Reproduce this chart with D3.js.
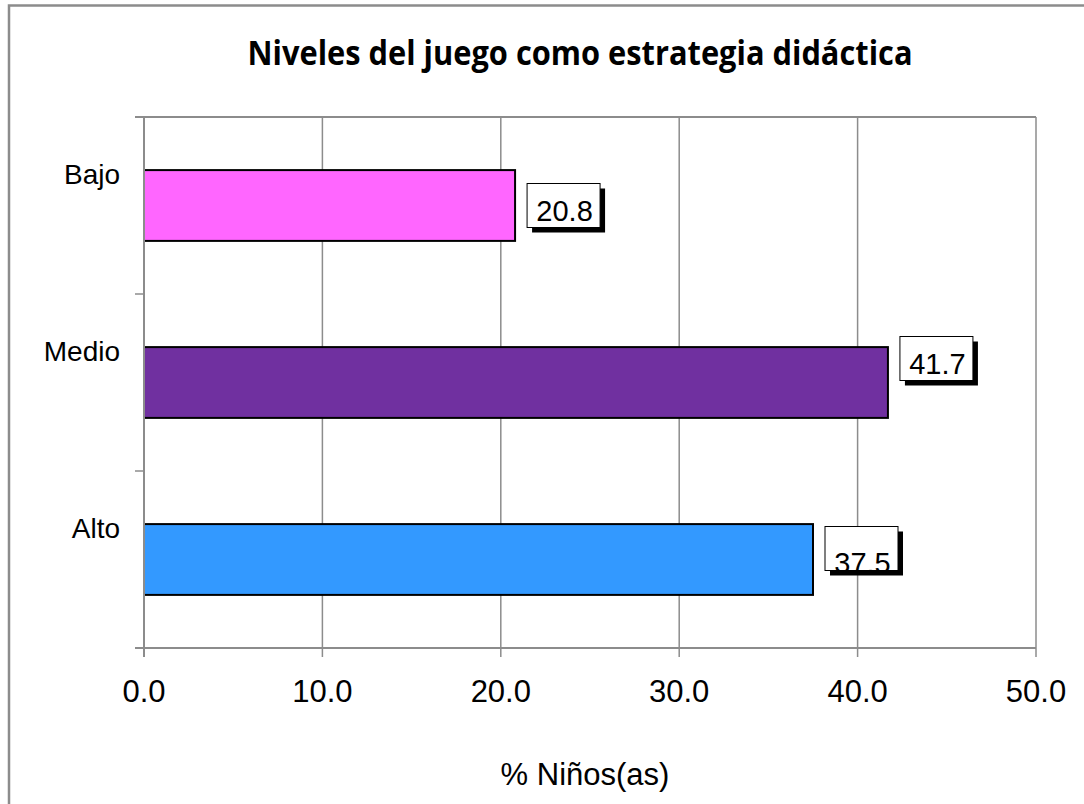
<!DOCTYPE html>
<html>
<head>
<meta charset="utf-8">
<script src="https://cdn.jsdelivr.net/npm/d3@7"></script>
<style>
  html, body { margin: 0; padding: 0; background: #fff; }
  svg { display: block; }
</style>
</head>
<body>
<svg id="chart" width="1084" height="804"></svg>
<script>
// Data
const categories = ["Bajo", "Medio", "Alto"];
const values = [20.8, 41.7, 37.5];
const barColors = ["#FF66FF", "#7030A0", "#3399FF"];
const xTicks = [0, 10, 20, 30, 40, 50];
const titleText = "Niveles del juego como estrategia didáctica";
const axisTitle = "% Niños(as)";

// Vertical nudge of each value box relative to its bar centre
const labelNudge = [0, -24, -11];

const svg = d3.select("#chart");
const W = 1084, H = 804;
const plot = { left: 144, right: 1036, top: 117, bottom: 648 };
const grey = "#8c8c8c";
const sans = "Liberation Sans, Arial, sans-serif";

// Outer frame (top and left edges are visible)
svg.append("path")
  .attr("d", `M9,${H} V5.5 H${W}`)
  .attr("fill", "none").attr("stroke", grey).attr("stroke-width", 2.5);

const x = d3.scaleLinear().domain([0, 50]).range([plot.left, plot.right]);
const y = d3.scaleBand().domain(categories).range([plot.top, plot.bottom]).paddingInner(0.6).paddingOuter(0.3);
const yEdges = d3.scaleLinear().domain([0, categories.length]).range([plot.top, plot.bottom]);

// Vertical gridlines with tick marks below the axis
svg.append("g").selectAll("line").data(xTicks).join("line")
  .attr("x1", d => x(d)).attr("x2", d => x(d))
  .attr("y1", plot.top).attr("y2", plot.bottom + 9)
  .attr("stroke", grey).attr("stroke-width", 1.5);

// Top border and bottom axis line
[plot.top, plot.bottom].forEach(yy => {
  svg.append("line")
    .attr("x1", plot.left - 9).attr("x2", plot.right)
    .attr("y1", yy).attr("y2", yy)
    .attr("stroke", grey).attr("stroke-width", 2);
});

// Category ticks on the left
svg.append("g").selectAll("line").data(d3.range(categories.length + 1)).join("line")
  .attr("x1", plot.left - 9).attr("x2", plot.left)
  .attr("y1", d => yEdges(d)).attr("y2", d => yEdges(d))
  .attr("stroke", grey).attr("stroke-width", 1.5);

// Bars
svg.append("g").selectAll("rect").data(values).join("rect")
  .attr("x", x(0))
  .attr("y", (d, i) => y(categories[i]))
  .attr("width", d => x(d) - x(0))
  .attr("height", y.bandwidth())
  .attr("fill", (d, i) => barColors[i])
  .attr("stroke", "#000").attr("stroke-width", 2);

// Left axis line drawn over the bars
svg.append("line")
  .attr("x1", plot.left).attr("x2", plot.left)
  .attr("y1", plot.top).attr("y2", plot.bottom + 9)
  .attr("stroke", grey).attr("stroke-width", 2);

// Category labels
svg.append("g").selectAll("text").data(categories).join("text")
  .attr("x", 120)
  .attr("y", d => y(d) + y.bandwidth() / 2 - 22)
  .attr("text-anchor", "end")
  .attr("font-family", sans)
  .attr("font-size", 28)
  .attr("fill", "#000")
  .text(d => d);

// Value labels in shadowed boxes
const boxW = 73, boxH = 44;
const lab = svg.append("g").selectAll("g").data(values).join("g")
  .attr("transform", (d, i) => {
    const cx = x(d) + 12;
    const cy = y(categories[i]) + y.bandwidth() / 2 + labelNudge[i];
    return `translate(${cx},${cy - boxH / 2})`;
  });
lab.append("rect").attr("x", 5).attr("y", 5).attr("width", boxW).attr("height", boxH).attr("fill", "#000");
lab.append("rect").attr("x", 0).attr("y", 0).attr("width", boxW).attr("height", boxH)
  .attr("fill", "#fff").attr("stroke", "#000").attr("stroke-width", 1);
lab.append("text")
  .attr("x", boxW / 2 + 1)
  .attr("y", (d, i) => i === 2 ? boxH + 2 : boxH / 2 + 15)
  .attr("text-anchor", "middle")
  .attr("font-family", sans)
  .attr("font-size", 29)
  .attr("fill", "#000")
  .text(d => d.toFixed(1));

// X tick labels
svg.append("g").selectAll("text").data(xTicks).join("text")
  .attr("x", d => x(d))
  .attr("y", 702)
  .attr("text-anchor", "middle")
  .attr("font-family", sans)
  .attr("font-size", 31)
  .attr("fill", "#000")
  .text(d => d.toFixed(1));

// Axis title
svg.append("text")
  .attr("x", 585).attr("y", 785)
  .attr("text-anchor", "middle")
  .attr("font-family", sans)
  .attr("font-size", 31)
  .attr("fill", "#000")
  .text(axisTitle);

// Chart title
svg.append("text")
  .attr("x", 580).attr("y", 65)
  .attr("text-anchor", "middle")
  .attr("font-family", "Open Sans, Lato, sans-serif")
  .attr("font-weight", "bold")
  .attr("font-size", 34)
  .attr("textLength", 665)
  .attr("lengthAdjust", "spacingAndGlyphs")
  .attr("fill", "#000")
  .text(titleText);
</script>
</body>
</html>
